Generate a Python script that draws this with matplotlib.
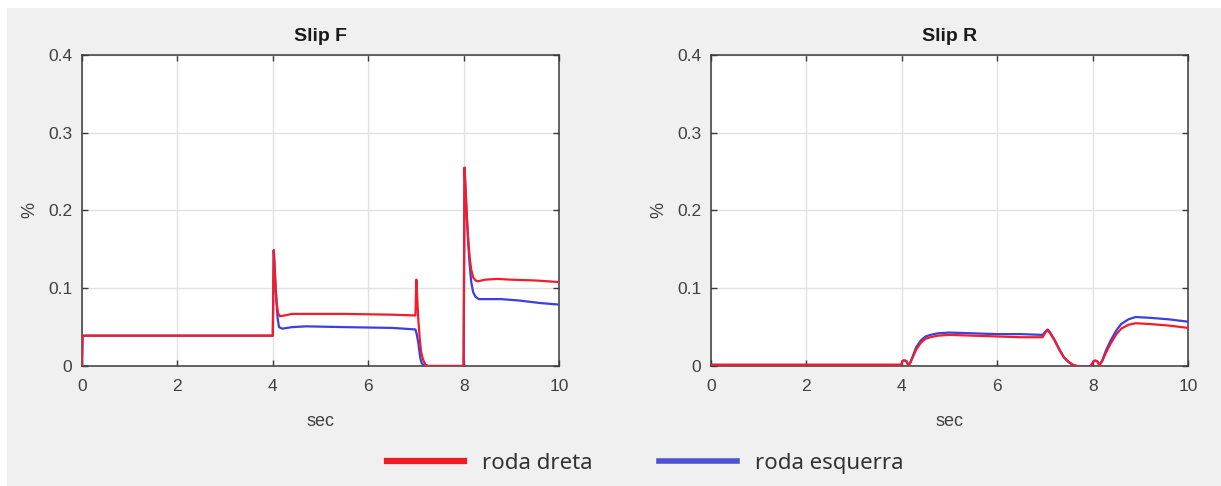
import matplotlib
matplotlib.use("Agg")
import matplotlib.pyplot as plt
from matplotlib.patches import Rectangle
from matplotlib.lines import Line2D

# ---- data -------------------------------------------------------------
# Slip F (front axle)
tF_dreta = [0, 0.01, 0.03, 4.0, 4.02, 4.04, 4.06, 4.08, 4.11, 4.15, 4.25, 4.4,
            4.7, 5.5, 6.5, 6.99, 7.01, 7.03, 7.05, 7.08, 7.11, 7.15, 7.2, 7.25,
            8.0, 8.02, 8.04, 8.07, 8.1, 8.13, 8.16, 8.2, 8.25, 8.3, 8.45, 8.7,
            9.0, 9.5, 10.0]
sF_dreta = [0, 0.038, 0.039, 0.039, 0.149, 0.125, 0.100, 0.082, 0.068, 0.064,
            0.065, 0.067, 0.067, 0.067, 0.066, 0.065, 0.111, 0.085, 0.060, 0.035,
            0.018, 0.008, 0.002, 0.0, 0.0, 0.255, 0.228, 0.190, 0.160, 0.138,
            0.124, 0.114, 0.110, 0.109, 0.111, 0.112, 0.111, 0.110, 0.108]

tF_esq = [0, 0.01, 0.03, 4.0, 4.02, 4.04, 4.06, 4.08, 4.1, 4.13, 4.2, 4.4, 4.7,
          5.5, 6.5, 6.99, 7.02, 7.05, 7.07, 7.09, 7.12, 7.16, 7.2, 8.0, 8.02,
          8.04, 8.07, 8.1, 8.13, 8.16, 8.2, 8.25, 8.32, 8.5, 8.8, 9.2, 9.6, 10.0]
sF_esq = [0, 0.038, 0.039, 0.039, 0.149, 0.125, 0.100, 0.080, 0.062, 0.050,
          0.048, 0.050, 0.051, 0.050, 0.049, 0.047, 0.040, 0.030, 0.020, 0.011,
          0.004, 0.001, 0.0, 0.0, 0.255, 0.228, 0.190, 0.155, 0.128, 0.108,
          0.095, 0.089, 0.086, 0.086, 0.086, 0.084, 0.081, 0.079]

# Slip R (rear axle)
tR_dreta = [0, 3.99, 4.01, 4.03, 4.07, 4.1, 4.13, 4.17, 4.22, 4.3, 4.4, 4.5,
            4.6, 4.75, 5.0, 5.5, 6.0, 6.5, 6.95, 7.02, 7.06, 7.1, 7.2, 7.3, 7.4,
            7.5, 7.6, 7.75, 7.95, 8.02, 8.05, 8.1, 8.14, 8.2, 8.28, 8.38, 8.5,
            8.6, 8.75, 8.9, 9.2, 9.6, 10.0]
sR_dreta = [0.0015, 0.0015, 0.006, 0.007, 0.007, 0.006, 0.002, 0.003, 0.010,
            0.021, 0.030, 0.035, 0.037, 0.039, 0.040, 0.039, 0.038, 0.037,
            0.037, 0.044, 0.046, 0.043, 0.033, 0.021, 0.011, 0.005, 0.001,
            -0.001, -0.001, 0.006, 0.007, 0.006, 0.001, 0.006, 0.017, 0.029,
            0.041, 0.048, 0.053, 0.055, 0.054, 0.052, 0.049]

tR_esq = [0, 3.99, 4.01, 4.03, 4.07, 4.1, 4.13, 4.17, 4.22, 4.3, 4.4, 4.5, 4.6,
          4.75, 5.0, 5.5, 6.0, 6.5, 6.95, 7.02, 7.06, 7.1, 7.2, 7.3, 7.4, 7.5,
          7.6, 7.75, 7.95, 8.02, 8.05, 8.1, 8.14, 8.2, 8.28, 8.38, 8.5, 8.6,
          8.75, 8.9, 9.2, 9.6, 10.0]
sR_esq = [0.0015, 0.0015, 0.006, 0.007, 0.007, 0.006, 0.002, 0.003, 0.011,
          0.024, 0.033, 0.038, 0.040, 0.042, 0.043, 0.042, 0.041, 0.041,
          0.040, 0.045, 0.047, 0.044, 0.034, 0.022, 0.011, 0.005, 0.001,
          -0.001, -0.001, 0.006, 0.007, 0.006, 0.001, 0.007, 0.020, 0.033,
          0.046, 0.054, 0.060, 0.063, 0.062, 0.060, 0.057]

titles = ["Slip F", "Slip R"]
xticks = [0, 2, 4, 6, 8, 10]
yticks = [0, 0.1, 0.2, 0.3, 0.4]
ytick_labels = ["0", "0.1", "0.2", "0.3", "0.4"]
legend_labels = ["roda dreta", "roda esquerra"]

# ---- styling ----------------------------------------------------------
RED = "#f21d2b"
BLUE = "#3c3fe0"
AX_COL = "#3a3a3a"
TXT_COL = "#404040"
GRID_COL = "#e2e2e2"
BG = "#f0f0f0"

W, H = 1221, 486
fig = plt.figure(figsize=(W / 100, H / 100), dpi=100, facecolor="white")
fig.patches.append(Rectangle((7 / W, 0), 1, 1 - 8 / H, transform=fig.transFigure,
                             facecolor=BG, edgecolor="none", zorder=-10))

ax_rects = [
    [82 / W, (H - 366) / H, 477 / W, 311 / H],
    [711 / W, (H - 366) / H, 477 / W, 311 / H],
]
series = [
    ((tF_esq, sF_esq), (tF_dreta, sF_dreta)),
    ((tR_esq, sR_esq), (tR_dreta, sR_dreta)),
]

for rect, title, ((te, se), (td, sd)) in zip(ax_rects, titles, series):
    ax = fig.add_axes(rect)
    ax.set_facecolor("white")
    ax.plot(te, se, color=BLUE, lw=1.6, zorder=3)
    ax.plot(td, sd, color=RED, lw=1.6, zorder=4)
    ax.set_xlim(0, 10)
    ax.set_ylim(0, 0.4)
    ax.set_xticks(xticks)
    ax.set_xticklabels([str(v) for v in xticks])
    ax.set_yticks(yticks)
    ax.set_yticklabels(ytick_labels)
    ax.grid(True, color=GRID_COL, lw=1.0, zorder=0)
    ax.set_axisbelow(True)
    for sp in ax.spines.values():
        sp.set_color(AX_COL)
        sp.set_linewidth(1.1)
    ax.tick_params(axis="both", which="both", direction="in", length=4,
                   width=1.0, color=AX_COL, top=True, right=True,
                   labelcolor=TXT_COL, labelsize=12.5)
    ax.tick_params(axis="x", pad=9)
    ax.tick_params(axis="y", pad=7)
    for lab in ax.get_xticklabels() + ax.get_yticklabels():
        lab.set_family("Liberation Sans")
    ax.set_title(title, fontsize=14, fontweight="bold", family="Liberation Sans",
                 color="#1a1a1a", pad=10)
    ax.set_xlabel("sec", fontsize=13, family="Liberation Sans", color=TXT_COL,
                  labelpad=14)
    ax.set_ylabel("%", fontsize=13, family="Liberation Sans", color=TXT_COL,
                  labelpad=7)

handles = [Line2D([], [], color="#ee1c25", lw=4.5),
           Line2D([], [], color="#4f52d0", lw=4.0)]
leg = fig.legend(handles, legend_labels, loc="center",
                 bbox_to_anchor=(645 / W, 1 - 463 / H), ncol=2, frameon=False,
                 handlelength=3.5, handletextpad=0.8, columnspacing=3.0,
                 prop={"family": "Noto Sans", "size": 16})
for t in leg.get_texts():
    t.set_color("#333333")

fig.savefig("out.png", dpi=100, facecolor=fig.get_facecolor())
